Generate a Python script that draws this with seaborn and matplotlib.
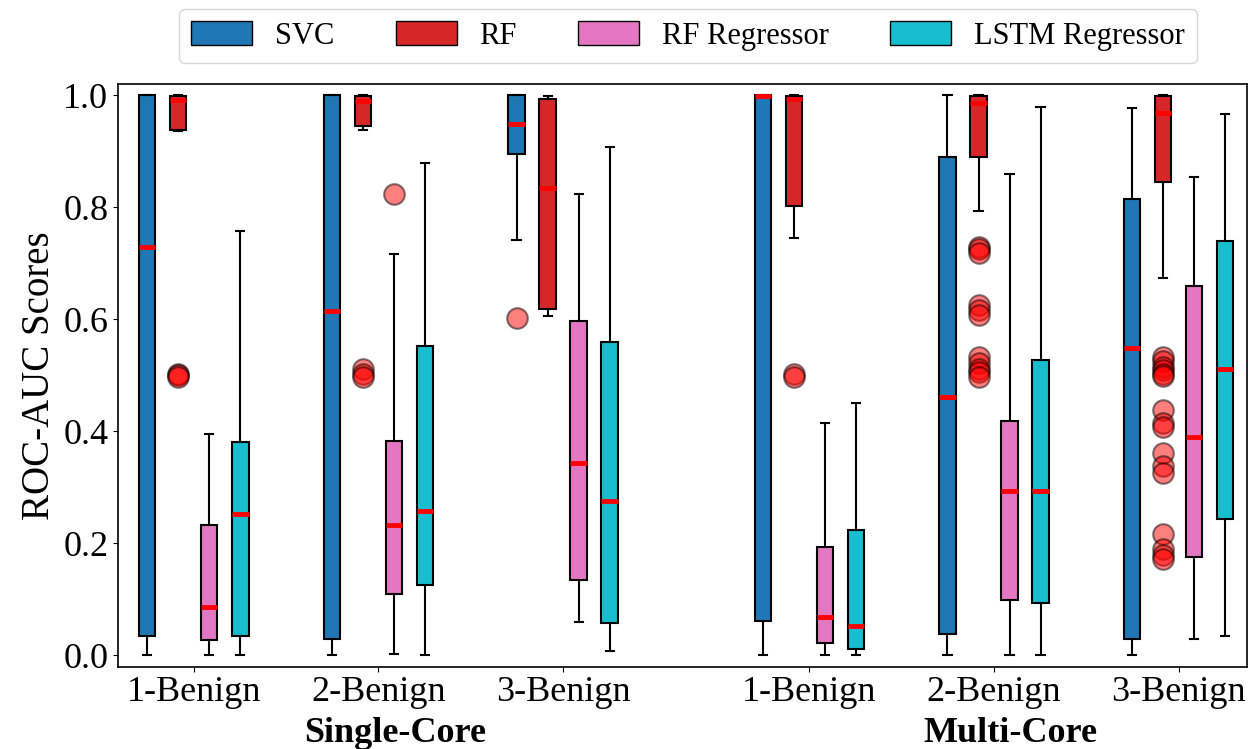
import numpy as np
import pandas as pd
import matplotlib
matplotlib.use("Agg")
import matplotlib.pyplot as plt
from matplotlib.patches import Patch
import seaborn as sns

plt.rcParams["font.family"] = ["Liberation Serif", "DejaVu Serif"]

# ---------------- data ----------------
groups = ["1-Benign", "2-Benign", "3-Benign", "1-Benign", "2-Benign", "3-Benign"]
group_pos = [0, 1, 2, 3.333, 4.333, 5.333]
models = ["SVC", "RF", "RF Regressor", "LSTM Regressor"]
colors = ["#1f77b4", "#d62728", "#e377c2", "#17becf"]

# five-number summaries per model, one value per group
svc_lo = [0.0, 0.0, 0.742, 0.0, 0.0, 0.0]
svc_q1 = [0.034, 0.029, 0.895, 0.061, 0.039, 0.029]
svc_med = [0.729, 0.615, 0.948, 0.998, 0.462, 0.549]
svc_q3 = [1.0, 1.0, 1.0, 1.0, 0.889, 0.815]
svc_hi = [1.0, 1.0, 1.0, 1.0, 1.0, 0.977]

rf_lo = [0.936, 0.938, 0.606, 0.745, 0.793, 0.674]
rf_q1 = [0.937, 0.945, 0.619, 0.802, 0.889, 0.845]
rf_med = [0.991, 0.990, 0.834, 0.993, 0.986, 0.968]
rf_q3 = [0.999, 0.999, 0.993, 0.999, 0.998, 0.998]
rf_hi = [1.0, 1.0, 0.999, 1.0, 1.0, 1.0]

rfr_lo = [0.0, 0.003, 0.059, 0.0, 0.0, 0.029]
rfr_q1 = [0.027, 0.110, 0.135, 0.023, 0.098, 0.175]
rfr_med = [0.087, 0.232, 0.344, 0.068, 0.294, 0.389]
rfr_q3 = [0.232, 0.383, 0.597, 0.193, 0.419, 0.660]
rfr_hi = [0.396, 0.716, 0.824, 0.414, 0.859, 0.854]

lstm_lo = [0.0, 0.0, 0.007, 0.001, 0.001, 0.034]
lstm_q1 = [0.034, 0.125, 0.057, 0.011, 0.093, 0.243]
lstm_med = [0.253, 0.258, 0.276, 0.052, 0.294, 0.512]
lstm_q3 = [0.381, 0.553, 0.560, 0.223, 0.528, 0.740]
lstm_hi = [0.758, 0.879, 0.907, 0.451, 0.978, 0.966]

# outliers: (group index, values)
svc_fliers = [(2, [0.603])]
rf_fliers = [
    (0, [0.503, 0.500, 0.497]),
    (1, [0.512, 0.502, 0.497]),
    (3, [0.503, 0.497]),
    (4, [0.728, 0.725, 0.718, 0.626, 0.617, 0.608, 0.533, 0.522, 0.512, 0.505, 0.497]),
    (5, [0.533, 0.525, 0.515, 0.510, 0.503, 0.498, 0.438, 0.415, 0.408,
         0.362, 0.338, 0.325, 0.216, 0.190, 0.180, 0.172]),
]
rfr_fliers = [(1, [0.824])]
lstm_fliers = []

# ---------------- build long tables ----------------
summaries = {
    "SVC": [svc_lo, svc_q1, svc_med, svc_q3, svc_hi],
    "RF": [rf_lo, rf_q1, rf_med, rf_q3, rf_hi],
    "RF Regressor": [rfr_lo, rfr_q1, rfr_med, rfr_q3, rfr_hi],
    "LSTM Regressor": [lstm_lo, lstm_q1, lstm_med, lstm_q3, lstm_hi],
}
fliers = {"SVC": svc_fliers, "RF": rf_fliers,
          "RF Regressor": rfr_fliers, "LSTM Regressor": lstm_fliers}

rows = []
for m, stats in summaries.items():
    for g in range(len(groups)):
        for s in stats:
            rows.append({"pos": group_pos[g], "model": m, "score": s[g]})
df = pd.DataFrame(rows)

WIDTH = 0.672
GAP = 0.47
n = len(models)
frows = []
for i, m in enumerate(models):
    # same dodge offset seaborn uses for hue level i
    off = WIDTH / n * (i + 0.5 - n / 2)
    for g, vals in fliers[m]:
        for v in vals:
            frows.append({"x": group_pos[g] + off, "score": v})
fdf = pd.DataFrame(frows)

# ---------------- plot ----------------
fig, ax = plt.subplots(figsize=(12.49, 7.49), dpi=100)
fig.subplots_adjust(left=0.0945, right=0.998, top=0.888, bottom=0.11)

sns.boxplot(data=df, x="pos", y="score", hue="model", hue_order=models,
            palette=dict(zip(models, colors)), saturation=1,
            native_scale=True, width=WIDTH, gap=GAP, whis=(0, 100),
            showfliers=False, linecolor="black", linewidth=1.5,
            medianprops={"color": "red", "linewidth": 3.5},
            legend=False, ax=ax)

sns.scatterplot(data=fdf, x="x", y="score", color="red", alpha=0.5,
                edgecolor="black", linewidth=1.5, s=220, zorder=3,
                legend=False, ax=ax)

ax.set_xlim(-0.41, 5.70)
ax.set_ylim(-0.02, 1.02)
ax.set_xticks(group_pos)
ax.set_xticklabels(groups)
ax.set_yticks(np.arange(0, 1.01, 0.2))
ax.tick_params(labelsize=26)
ax.set_xlabel("")
ax.set_ylabel("ROC-AUC Scores", fontsize=28)
for sp in ax.spines.values():
    sp.set_linewidth(1.2)

# group titles under tick labels
fig.text(0.316, 0.009, "Single-Core", fontsize=26, fontweight="bold",
         ha="center", va="baseline")
fig.text(0.809, 0.009, "Multi-Core", fontsize=26, fontweight="bold",
         ha="center", va="baseline")

handles = [Patch(facecolor=c, edgecolor="black", label=m)
           for m, c in zip(models, colors)]
ax.legend(handles=handles, loc="center", bbox_to_anchor=(0.505, 1.082),
          ncol=4, fontsize=22, handlelength=2.0, handleheight=0.8,
          handletextpad=0.75, columnspacing=2.0, frameon=True)

fig.savefig("out.png", dpi=100)
